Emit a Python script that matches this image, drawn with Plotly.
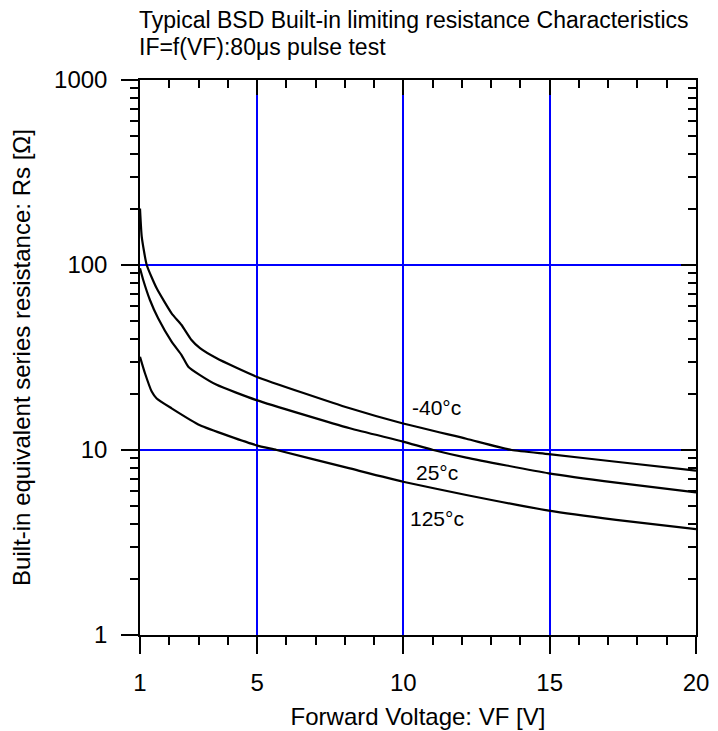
import math
import plotly.graph_objects as go

# ---- data ----
vf_m40 = [1.0, 1.06, 1.23, 1.57, 2.08, 2.42, 2.76, 3.05, 3.62, 4.98, 8.17, 9.99, 12.15, 13.7, 14.97, 17.27, 20.0]
rs_m40 = [202, 142, 100, 74.8, 54.8, 47.4, 39.3, 35.5, 31.3, 24.9, 16.8, 13.9, 11.5, 10.0, 9.5, 8.64, 7.73]

vf_25 = [1.0, 1.11, 1.34, 1.62, 2.08, 2.42, 2.65, 3.05, 3.62, 4.98, 8.17, 9.99, 11.02, 12.15, 14.97, 17.27, 20.0]
rs_25 = [96, 83, 64.7, 51.5, 38.5, 32.6, 28.2, 25.4, 22.5, 18.6, 13.1, 11.1, 10.0, 9.1, 7.48, 6.66, 5.9]

vf_125 = [1.0, 1.17, 1.40, 1.57, 2.08, 3.05, 4.98, 5.67, 8.17, 9.99, 12.15, 14.97, 17.27, 20.0]
rs_125 = [31.9, 26.0, 20.7, 19.0, 16.8, 13.6, 10.6, 10.0, 7.95, 6.74, 5.71, 4.70, 4.19, 3.73]

series = [("-40°c", vf_m40, rs_m40), ("25°c", vf_25, rs_25), ("125°c", vf_125, rs_125)]
label_vf = [11.14, 11.14, 11.14]
label_rs = [16.9, 7.6, 4.29]

x_ticks = [1, 5, 10, 15, 20]
x_ticktext = ["1", "5", "10", "15", "20"]
y_ticks = [1, 10, 100, 1000]
y_ticktext = ["1", "10", "100", "1000"]

title_line1 = "Typical BSD Built-in limiting resistance Characteristics"
title_line2 = "IF=f(VF):80μs pulse test"

FONT = "Liberation Sans, Arial, sans-serif"
GRID = "#0000ff"

fig = go.Figure()
for name, xs, ys in series:
    fig.add_trace(go.Scatter(x=xs, y=ys, mode="lines", name=name,
                             line=dict(color="black", width=2.2, shape="spline", smoothing=0.5),
                             showlegend=False, hoverinfo="skip"))

# invisible copy on the mirror axes so that they get drawn
fig.add_trace(go.Scatter(x=vf_m40, y=rs_m40, mode="lines", xaxis="x2", yaxis="y2",
                         line=dict(width=0, color="rgba(0,0,0,0)"), showlegend=False, hoverinfo="skip"))

for (name, _, _), lx, ly in zip(series, label_vf, label_rs):
    fig.add_annotation(x=lx, y=math.log10(ly), yref="y", xref="x", text=name, showarrow=False,
                       font=dict(size=21, color="black", family=FONT), xanchor="center", yanchor="middle")

common_x = dict(range=[1, 20], tickvals=x_ticks, linecolor="black", linewidth=1.5,
                tickcolor="black", tickwidth=1.5, automargin=False)
common_y = dict(type="log", range=[0, 3], tickvals=y_ticks, linecolor="black", linewidth=1.5,
                tickcolor="black", tickwidth=1.5, automargin=False)

fig.update_layout(
    width=710, height=723,
    paper_bgcolor="white", plot_bgcolor="white",
    margin=dict(l=132, r=22, t=72, b=96, autoexpand=False),
    font=dict(family=FONT, color="black", size=24),
    xaxis=dict(**common_x, ticktext=x_ticktext, ticks="outside", ticklen=17,
               showgrid=True, gridcolor=GRID, gridwidth=1.5, zeroline=False,
               minor=dict(dtick=1, ticks="outside", ticklen=8, tickcolor="black", tickwidth=1.5, showgrid=False),
               tickfont=dict(size=24), ticklabelstandoff=8,
               title=dict(text="Forward Voltage: VF [V]", font=dict(size=24), standoff=14),
               showline=True),
    yaxis=dict(**common_y, ticktext=y_ticktext, ticks="outside", ticklen=17,
               showgrid=True, gridcolor=GRID, gridwidth=1.5, zeroline=False,
               minor=dict(dtick="D1", ticks="outside", ticklen=8, tickcolor="black", tickwidth=1.5, showgrid=False),
               tickfont=dict(size=24), ticklabelstandoff=9,
               title=dict(text="Built-in equivalent series resistance: Rs [Ω]", font=dict(size=24), standoff=18),
               showline=True),
    xaxis2=dict(**common_x, overlaying="x", side="top", anchor="y", ticks="inside", ticklen=15,
                showticklabels=False, showgrid=False, zeroline=False, showline=True,
                minor=dict(dtick=1, ticks="inside", ticklen=8, tickcolor="black", tickwidth=1.5, showgrid=False)),
    yaxis2=dict(**common_y, overlaying="y", side="right", anchor="x", ticks="inside", ticklen=15,
                showticklabels=False, showgrid=False, zeroline=False, showline=True,
                minor=dict(dtick="D1", ticks="inside", ticklen=8, tickcolor="black", tickwidth=1.5, showgrid=False)),
)

fig.add_annotation(xref="paper", yref="paper", x=0, y=1, xanchor="left", yanchor="middle",
                   xshift=-3, yshift=60, showarrow=False, text=title_line1,
                   font=dict(size=23, color="black", family=FONT))
fig.add_annotation(xref="paper", yref="paper", x=0, y=1, xanchor="left", yanchor="middle",
                   xshift=-3, yshift=33, showarrow=False, text=title_line2,
                   font=dict(size=23, color="black", family=FONT))

fig.write_html("out.html")
